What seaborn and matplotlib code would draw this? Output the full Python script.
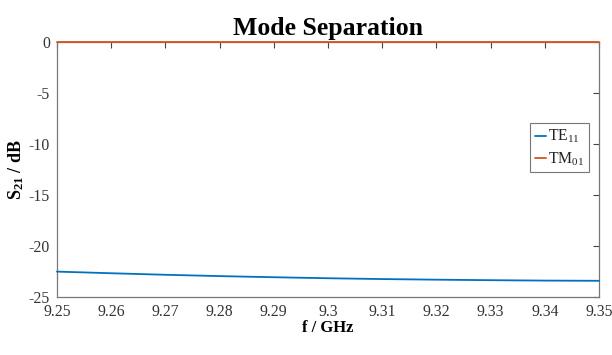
import matplotlib
matplotlib.use("Agg")
import matplotlib.pyplot as plt
import seaborn as sns
import numpy as np
import pandas as pd

freq = [9.25, 9.26, 9.27, 9.28, 9.29, 9.30, 9.31, 9.32, 9.33, 9.34, 9.35]
te11 = [-22.50, -22.66, -22.81, -22.94, -23.05, -23.15, -23.23, -23.29, -23.34, -23.38, -23.40]
tm01 = [-0.02, -0.02, -0.02, -0.02, -0.02, -0.02, -0.02, -0.02, -0.02, -0.02, -0.02]
xticks = [9.25, 9.26, 9.27, 9.28, 9.29, 9.30, 9.31, 9.32, 9.33, 9.34, 9.35]
xticklabels = ["9.25", "9.26", "9.27", "9.28", "9.29", "9.3", "9.31", "9.32", "9.33", "9.34", "9.35"]
yticks = [0, -5, -10, -15, -20, -25]

sns.set_theme(style="white")
plt.rcParams['font.family'] = ['Liberation Serif', 'DejaVu Serif']
plt.rcParams['axes.unicode_minus'] = False
plt.rcParams['mathtext.fontset'] = 'custom'
plt.rcParams['mathtext.rm'] = 'Liberation Serif'
plt.rcParams['mathtext.it'] = 'Liberation Serif'
plt.rcParams['mathtext.bf'] = 'Liberation Serif:bold'

df = pd.DataFrame({
    "f": freq * 2,
    "S21": te11 + tm01,
    "mode": ["TE$_{11}$"] * len(freq) + ["TM$_{01}$"] * len(freq),
})

fig = plt.figure(figsize=(6.12, 3.55), dpi=100)
ax = fig.add_axes([0.093, 0.163, 0.886, 0.719])
sns.lineplot(data=df, x="f", y="S21", hue="mode",
             palette=["#0072BD", "#D95319"], linewidth=1.3, ax=ax)
for ln in ax.get_lines():
    ln.set_clip_on(False)
    ln.set_zorder(5)

ax.set_xlim(9.25, 9.35)
ax.set_ylim(-25, 0)
ax.set_xticks(xticks)
ax.set_xticklabels(xticklabels)
ax.set_yticks(yticks)
ax.tick_params(direction="in", length=4, width=0.8, colors="#444444",
               labelsize=11.3, top=True, right=True)
ax.tick_params(axis="x", pad=5)
ax.tick_params(axis="y", pad=5)
for lbl in ax.get_xticklabels() + ax.get_yticklabels():
    lbl.set_color("#333333")
for s in ax.spines.values():
    s.set_color("#777777")
    s.set_linewidth(0.9)

ax.set_title("Mode Separation", fontsize=18.5, fontweight="bold", pad=5, color="black")
ax.set_xlabel("f / GHz", fontsize=12, fontweight="bold", labelpad=0, color="black")
ax.set_ylabel("S$_{\\mathbf{21}}$ / dB", fontsize=13, fontweight="bold", labelpad=2, color="black")

leg = ax.legend(loc="center right", bbox_to_anchor=(0.987, 0.585), fontsize=11.3,
                handlelength=0.7, handletextpad=0.15, borderpad=0.3,
                labelspacing=0.3, borderaxespad=0.2, frameon=True, fancybox=False, title=None)
leg.get_frame().set_edgecolor("#555555")
leg.get_frame().set_linewidth(0.8)
for t in leg.get_texts():
    t.set_color("#222222")

fig.savefig("out.png", dpi=100)
